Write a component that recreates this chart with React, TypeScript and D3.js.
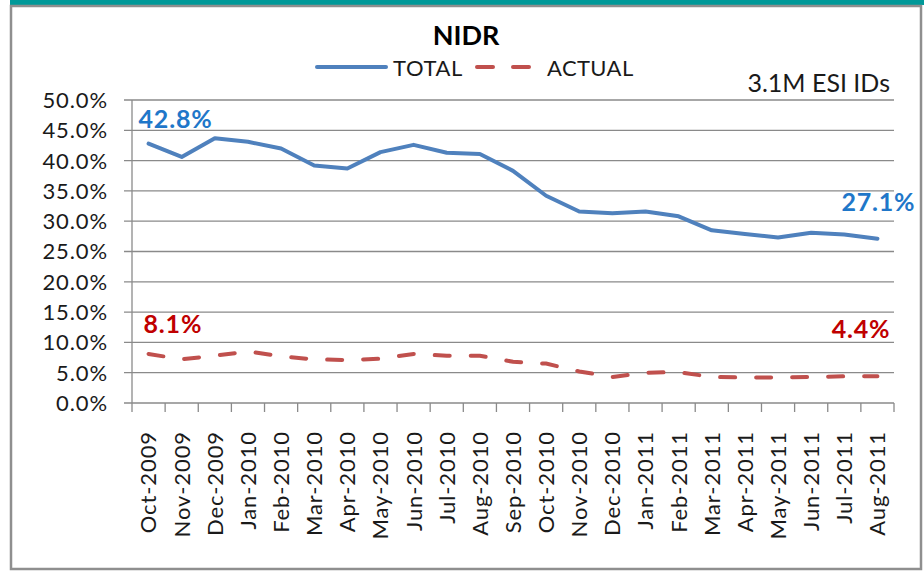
import { useEffect, useRef } from "react";
import * as d3 from "d3";

const months = [
  "Oct-2009", "Nov-2009", "Dec-2009", "Jan-2010", "Feb-2010", "Mar-2010",
  "Apr-2010", "May-2010", "Jun-2010", "Jul-2010", "Aug-2010", "Sep-2010",
  "Oct-2010", "Nov-2010", "Dec-2010", "Jan-2011", "Feb-2011", "Mar-2011",
  "Apr-2011", "May-2011", "Jun-2011", "Jul-2011", "Aug-2011",
];

// percent values
const total = [
  42.8, 40.6, 43.7, 43.1, 42.0, 39.2, 38.7, 41.4, 42.6, 41.3, 41.1, 38.3,
  34.2, 31.6, 31.3, 31.6, 30.8, 28.5, 27.9, 27.3, 28.1, 27.8, 27.1,
];
const actual = [
  8.1, 7.2, 7.8, 8.5, 7.7, 7.2, 7.1, 7.3, 8.1, 7.8, 7.8, 6.8,
  6.5, 5.2, 4.3, 5.0, 5.1, 4.3, 4.2, 4.2, 4.3, 4.4, 4.4,
];
const yTicks = [0, 5, 10, 15, 20, 25, 30, 35, 40, 45, 50];

const FONT = "Lato, 'Open Sans', sans-serif";
const BLUE = "#4F81BD";
const RED = "#C0504D";
const GRID = "#8a8a8a";
const INK = "#1a1a1a";

export default function App() {
  const svgRef = useRef<SVGSVGElement | null>(null);

  useEffect(() => {
    if (!svgRef.current) return;
    const svg = d3.select(svgRef.current);
    svg.selectAll("*").remove();

    const W = 924;
    const H = 571;
    const left = 132, right = 894, top = 100, bottom = 403;

    // frame
    svg.append("rect").attr("x", 0).attr("y", 0).attr("width", W).attr("height", H).attr("fill", "#fff");
    svg.append("rect").attr("x", 10).attr("y", 0).attr("width", W - 10).attr("height", 5).attr("fill", "#009999");
    svg.append("rect")
      .attr("x", 11).attr("y", 6).attr("width", 910).attr("height", 563)
      .attr("fill", "#fff").attr("stroke", "#8f8f8f").attr("stroke-width", 2.5);

    const x = d3.scaleBand<string>().domain(months).range([left, right]).padding(0);
    const cx = (m: string) => x(m)! + x.bandwidth() / 2;
    const y = d3.scaleLinear().domain([0, 50]).range([bottom, top]);

    // gridlines
    svg.append("g")
      .selectAll("line")
      .data(yTicks)
      .enter()
      .append("line")
      .attr("x1", left - 8).attr("x2", right)
      .attr("y1", (d) => y(d)).attr("y2", (d) => y(d))
      .attr("stroke", GRID).attr("stroke-width", 1.3);

    // y axis line
    svg.append("line")
      .attr("x1", left).attr("x2", left).attr("y1", top).attr("y2", bottom)
      .attr("stroke", GRID).attr("stroke-width", 1.3);

    // y labels
    svg.append("g")
      .selectAll("text")
      .data(yTicks)
      .enter()
      .append("text")
      .attr("x", 108)
      .attr("y", (d) => y(d))
      .attr("dy", "0.36em")
      .attr("text-anchor", "end")
      .style("font", `22px ${FONT}`)
      .style("letter-spacing", "0.9px")
      .style("fill", INK)
      .text((d) => d.toFixed(1) + "%");

    // x ticks at category edges
    const edges = months.map((m) => x(m)!).concat([right]);
    svg.append("g")
      .selectAll("line")
      .data(edges)
      .enter()
      .append("line")
      .attr("x1", (d) => d).attr("x2", (d) => d)
      .attr("y1", bottom).attr("y2", bottom + 9)
      .attr("stroke", GRID).attr("stroke-width", 1.3);

    // x labels
    svg.append("g")
      .selectAll("text")
      .data(months)
      .enter()
      .append("text")
      .attr("transform", (d) => `translate(${cx(d)}, 431) rotate(-90)`)
      .attr("dy", "0.36em")
      .attr("text-anchor", "end")
      .style("font", `22px ${FONT}`)
      .style("letter-spacing", "0.9px")
      .style("fill", INK)
      .text((d) => d);

    const line = d3.line<number>()
      .x((_d, i) => cx(months[i]))
      .y((d) => y(d));

    svg.append("path")
      .datum(total)
      .attr("d", line)
      .attr("fill", "none")
      .attr("stroke", BLUE)
      .attr("stroke-width", 4)
      .attr("stroke-linejoin", "round")
      .attr("stroke-linecap", "round");

    svg.append("path")
      .datum(actual)
      .attr("d", line)
      .attr("fill", "none")
      .attr("stroke", RED)
      .attr("stroke-width", 4)
      .attr("stroke-dasharray", "15 21")
      .attr("stroke-linecap", "round");

    // data labels on first / last points
    const n = months.length - 1;
    const lbl = (tx: number, ty: number, anchor: string, color: string, t: string) =>
      svg.append("text")
        .attr("x", tx).attr("y", ty)
        .attr("text-anchor", anchor)
        .style("font", `bold 25px ${FONT}`)
        .style("letter-spacing", "0.8px")
        .style("fill", color)
        .text(t);
    lbl(cx(months[0]) - 10, y(total[0]) - 16, "start", "#1F77C9", total[0].toFixed(1) + "%");
    lbl(cx(months[0]) - 5, y(actual[0]) - 21, "start", "#C00000", actual[0].toFixed(1) + "%");
    lbl(cx(months[n]) + 38, y(total[n]) - 28, "end", "#1F77C9", total[n].toFixed(1) + "%");
    lbl(cx(months[n]) + 13, y(actual[n]) - 38, "end", "#C00000", actual[n].toFixed(1) + "%");

    // title
    svg.append("text")
      .attr("x", 466).attr("y", 45)
      .attr("text-anchor", "middle")
      .style("font", `bold 27px ${FONT}`)
      .style("fill", "#000")
      .text("NIDR");

    // legend
    const lg = svg.append("g");
    lg.append("line")
      .attr("x1", 317).attr("x2", 386).attr("y1", 67).attr("y2", 67)
      .attr("stroke", BLUE).attr("stroke-width", 4).attr("stroke-linecap", "round");
    lg.append("text")
      .attr("x", 393).attr("y", 76)
      .style("font", `22px ${FONT}`).style("letter-spacing", "0.6px").style("fill", INK)
      .text("TOTAL");
    lg.append("line")
      .attr("x1", 477).attr("x2", 530).attr("y1", 67).attr("y2", 67)
      .attr("stroke", RED).attr("stroke-width", 4).attr("stroke-linecap", "round")
      .attr("stroke-dasharray", "16 20");
    lg.append("text")
      .attr("x", 547).attr("y", 76)
      .style("font", `22px ${FONT}`).style("letter-spacing", "0.4px").style("fill", INK)
      .text("ACTUAL");

    svg.append("text")
      .attr("x", 890).attr("y", 92)
      .attr("text-anchor", "end")
      .style("font", `25px ${FONT}`).style("fill", INK)
      .text("3.1M ESI IDs");
  }, []);

  return (
    <div style={{ position: "absolute", left: 0, top: 0, width: 924, height: 571 }}>
      <svg ref={svgRef} width={924} height={571} style={{ display: "block" }} />
    </div>
  );
}
